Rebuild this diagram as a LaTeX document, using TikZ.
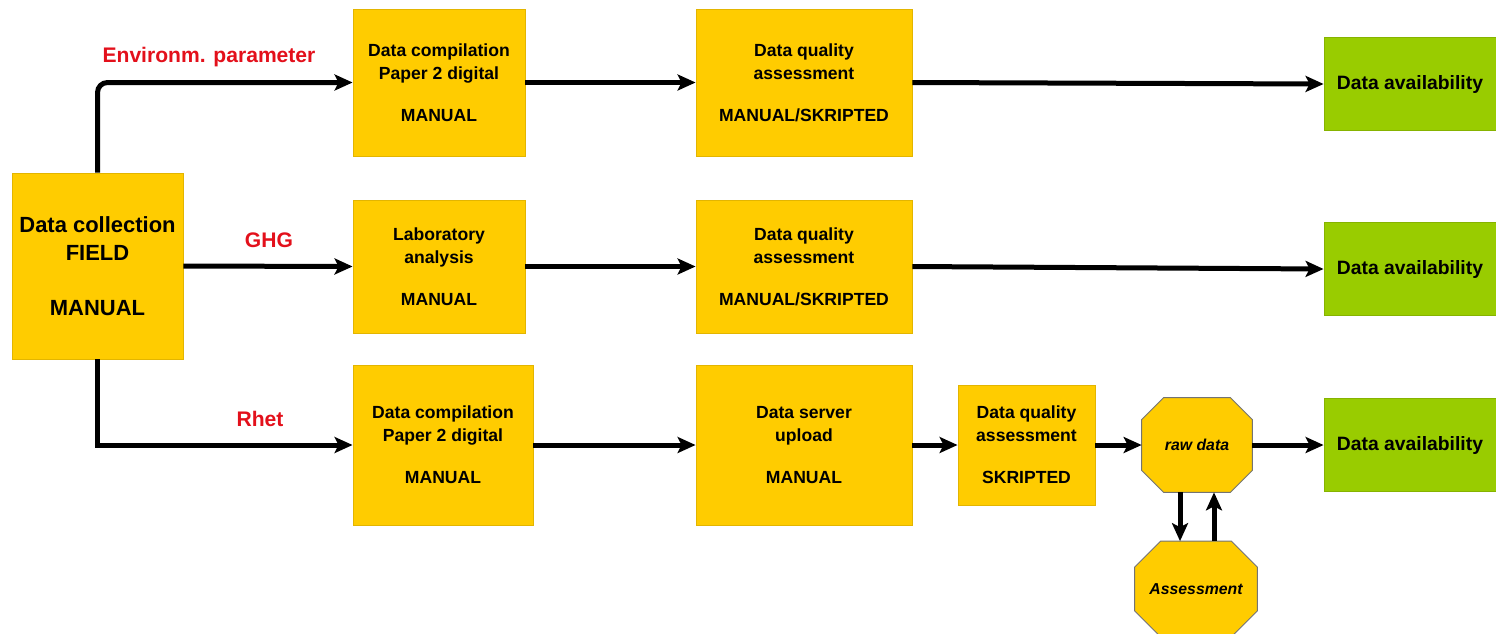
\documentclass[tikz,border=0pt]{standalone}
\usepackage{fontspec}
\setmainfont{Liberation Sans}
\usetikzlibrary{arrows.meta,calc,backgrounds}

\definecolor{boxyellow}{HTML}{FFCC00}
\definecolor{boxedge}{HTML}{E3B500}
\definecolor{boxgreen}{HTML}{99CC00}
\definecolor{greenedge}{HTML}{86B300}
\definecolor{labelred}{HTML}{E3101B}

\tikzset{
  stepbox/.style={fill=boxyellow, draw=boxedge, line width=0.5pt, align=center,
    inner sep=0pt, font=\bfseries\fontsize{10}{13}\selectfont},
  availbox/.style={fill=boxgreen, draw=greenedge, line width=0.5pt, align=center,
    inner sep=0pt, minimum width=3.44cm, minimum height=1.86cm,
    font=\bfseries\fontsize{11}{13}\selectfont},
  octnode/.style={inner sep=0pt, font=\bfseries\itshape\fontsize{9}{11}\selectfont},
  octfill/.style={fill=boxyellow, draw=black!55, line width=0.5pt},
  flow/.style={line width=0.1cm,
    -{Stealth[length=0.36cm,width=0.32cm,inset=0.08cm]}},
  branch/.style={text=labelred, font=\bfseries\fontsize{12}{14}\selectfont},
}

% filled octagon behind a named node, #2 = size of the cut corners
\newcommand\octagonfill[2]{%
  \begin{scope}[on background layer]
    \filldraw[octfill]
      ($(#1.north west)+(#2,0)$) -- ($(#1.north east)+(-#2,0)$) --
      ($(#1.north east)+(0,-#2)$) -- ($(#1.south east)+(0,#2)$) --
      ($(#1.south east)+(-#2,0)$) -- ($(#1.south west)+(#2,0)$) --
      ($(#1.south west)+(0,#2)$) -- ($(#1.north west)+(0,-#2)$) -- cycle;
  \end{scope}}

\begin{document}
\begin{tikzpicture}[x=0.02cm, y=-0.02cm]
\useasboundingbox (0,0) rectangle (1496,633);

% source
\node[stepbox, minimum width=3.42cm, minimum height=3.72cm,
      font=\bfseries\fontsize{12.5}{16}\selectfont]
  (field) at (97.5,266) {Data collection\\FIELD\\[15pt]MANUAL};

% row 1
\node[stepbox, minimum width=3.44cm, minimum height=2.94cm] (r1a) at (439,82.5)
  {Data compilation\\Paper 2 digital\\[11pt]MANUAL};
\node[stepbox, minimum width=4.32cm, minimum height=2.94cm] (r1b) at (804,82.5)
  {Data quality\\assessment\\[11pt]MANUAL/SKRIPTED};
\node[availbox] (r1c) at (1410,84) {Data availability};

% row 2
\node[stepbox, minimum width=3.44cm, minimum height=2.66cm] (r2a) at (439,266.5)
  {Laboratory\\analysis\\[11pt]MANUAL};
\node[stepbox, minimum width=4.32cm, minimum height=2.66cm] (r2b) at (804,266.5)
  {Data quality\\assessment\\[11pt]MANUAL/SKRIPTED};
\node[availbox] (r2c) at (1410,269) {Data availability};

% row 3
\node[stepbox, minimum width=3.6cm, minimum height=3.2cm] (r3a) at (443,445)
  {Data compilation\\Paper 2 digital\\[11pt]MANUAL};
\node[stepbox, minimum width=4.32cm, minimum height=3.2cm] (r3b) at (804,445)
  {Data server\\upload\\[11pt]MANUAL};
\node[stepbox, minimum width=2.74cm, minimum height=2.4cm] (r3c) at (1026.5,445)
  {Data quality\\assessment\\[11pt]SKRIPTED};
\node[octnode, minimum width=2.2cm, minimum height=1.88cm] (raw) at (1197,445) {raw data};
\octagonfill{raw}{0.44cm}
\node[octnode, minimum width=2.44cm, minimum height=1.9cm] (assess) at (1196,589) {Assessment};
\octagonfill{assess}{0.52cm}
\node[availbox] (r3d) at (1410,445) {Data availability};

% branch labels
\node[branch] (lenv) at (209,57) {Environm. parameter};
\node[branch] (lghg) at (269,240) {GHG};
\node[branch] (lrhet) at (260,419) {Rhet};

% connectors
\draw[flow, rounded corners=0.2cm] (field.north) |- (r1a.west);
\draw[flow] (field.east) -- (r2a.west);
\draw[flow] (field.south) |- (r3a.west);

\draw[flow] (r1a.east) -- (r1b.west);
\draw[flow] (r1b.east) -- (r1c.west);
\draw[flow] (r2a.east) -- (r2b.west);
\draw[flow] (r2b.east) -- (r2c.west);

\draw[flow] (r3a.east) -- (r3b.west);
\draw[flow] (r3b.east) -- (r3c.west);
\draw[flow] (r3c.east) -- (raw.west);
\draw[flow] (raw.east) -- (r3d.west);
\draw[flow] ([xshift=-0.34cm]raw.south) -- ([xshift=-0.34cm]raw.south |- assess.north);
\draw[flow] ([xshift=0.34cm]raw.south |- assess.north) -- ([xshift=0.34cm]raw.south);
\end{tikzpicture}
\end{document}
